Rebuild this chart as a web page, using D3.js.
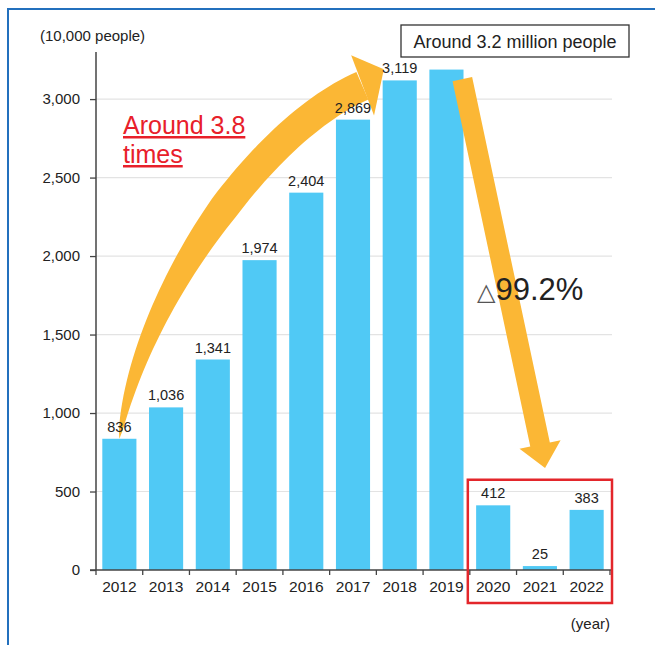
<!DOCTYPE html>
<html>
<head>
<meta charset="utf-8">
<script src="https://cdn.jsdelivr.net/npm/d3@7"></script>
<style>
  body { margin: 0; background: #fff; }
  svg { display: block; font-family: "Liberation Sans", Arial, Helvetica, sans-serif; }
</style>
</head>
<body>
<svg id="chart" width="655" height="645"></svg>
<script>
// data (unit: 10,000 people)
var years = ['2012', '2013', '2014', '2015', '2016', '2017', '2018', '2019', '2020', '2021', '2022'];
var visitors = [836, 1036, 1341, 1974, 2404, 2869, 3119, 3188, 412, 25, 383];
var valueLabels = ['836', '1,036', '1,341', '1,974', '2,404', '2,869', '3,119', '', '412', '25', '383'];
var yTicks = [0, 500, 1000, 1500, 2000, 2500, 3000];
var yTickLabels = ['0', '500', '1,000', '1,500', '2,000', '2,500', '3,000'];

var svg = d3.select('#chart');

var x = d3.scaleBand().domain(years).range([96, 610]).paddingInner(0.27).paddingOuter(0.135);
var y = d3.scaleLinear().domain([0, 3300]).range([570, 52]);

// fractional category index + value -> pixel (for the annotation arrows)
function at(i, v) {
  return [x.range()[0] + x.step() * (i + 0.5), y(v)];
}

// outer frame (blue rule top and left)
svg.append('line').attr('x1', 7).attr('x2', 655).attr('y1', 9).attr('y2', 9)
  .attr('stroke', '#2370bd').attr('stroke-width', 2);
svg.append('line').attr('x1', 8).attr('x2', 8).attr('y1', 9).attr('y2', 645)
  .attr('stroke', '#2370bd').attr('stroke-width', 2);

// gridlines
svg.append('g').selectAll('line')
  .data(yTicks.slice(1))
  .enter().append('line')
  .attr('x1', 96).attr('x2', 612)
  .attr('y1', function(d) { return y(d); })
  .attr('y2', function(d) { return y(d); })
  .attr('stroke', '#e3e3e3').attr('stroke-width', 1.2);

// bars
svg.append('g').selectAll('rect')
  .data(visitors)
  .enter().append('rect')
  .attr('x', function(d, i) { return x(years[i]); })
  .attr('y', function(d) { return y(d); })
  .attr('width', x.bandwidth())
  .attr('height', function(d) { return y(0) - y(d); })
  .attr('fill', '#50c9f5');

// y axis
var yAxis = d3.axisLeft(y).tickValues(yTicks).tickSize(6).tickPadding(10)
  .tickFormat(function(d, i) { return yTickLabels[i]; });
var yg = svg.append('g').attr('transform', 'translate(96,0)').call(yAxis);
yg.select('.domain').attr('stroke', '#444').attr('stroke-width', 1.5).attr('d', 'M0,52V570');
yg.selectAll('.tick line').attr('stroke', '#444').attr('stroke-width', 1.3);
yg.selectAll('.tick text').attr('font-size', 15).attr('fill', '#222')
  .attr('font-family', '"Liberation Sans", Arial, sans-serif');

// x axis: labels centred, ticks on band boundaries
var xAxis = d3.axisBottom(x).tickSize(0).tickPadding(11);
var xg = svg.append('g').attr('transform', 'translate(0,570)').call(xAxis);
xg.select('.domain').attr('stroke', '#444').attr('stroke-width', 1.5).attr('d', 'M90,0H612');
xg.selectAll('.tick text').attr('font-size', 15.5).attr('fill', '#222')
  .attr('font-family', '"Liberation Sans", Arial, sans-serif');
xg.append('g').selectAll('line')
  .data(d3.range(years.length + 1))
  .enter().append('line')
  .attr('x1', function(k) { return x.range()[0] + k * x.step(); })
  .attr('x2', function(k) { return x.range()[0] + k * x.step(); })
  .attr('y1', 0).attr('y2', 5)
  .attr('stroke', '#444').attr('stroke-width', 1.3);

// unit labels
svg.append('text').attr('x', 40).attr('y', 41).attr('font-size', 15).attr('fill', '#222')
  .text('(10,000 people)');
svg.append('text').attr('x', 610).attr('y', 629).attr('text-anchor', 'end')
  .attr('font-size', 15).attr('fill', '#222').text('(year)');

// ---- annotation arrows ----
var orange = '#fbb735';

// curved arrow 2012 -> 2018
var c0 = at(0, 836), c1 = at(0.44, 1720), c2 = at(3.0, 2800), c3 = at(5.2, 3085);
function bez(t, k) {
  var u = 1 - t;
  return u*u*u*c0[k] + 3*u*u*t*c1[k] + 3*u*t*t*c2[k] + t*t*t*c3[k];
}
function bezD(t, k) {
  var u = 1 - t;
  return 3*u*u*(c1[k]-c0[k]) + 6*u*t*(c2[k]-c1[k]) + 3*t*t*(c3[k]-c2[k]);
}
var sideA = [], sideB = [];
d3.range(0, 1.0001, 1/60).forEach(function(t) {
  var px = bez(t, 0), py = bez(t, 1);
  var dx = bezD(t, 0), dy = bezD(t, 1);
  var len = Math.sqrt(dx*dx + dy*dy);
  var nx = -dy/len, ny = dx/len;
  var h = 15 * Math.pow(Math.min(1, t / 0.55), 0.65);
  sideA.push([px + nx*h, py + ny*h]);
  sideB.push([px - nx*h, py - ny*h]);
});
var curvePoly = sideA.concat(sideB.reverse());
svg.append('path')
  .attr('d', d3.line()(curvePoly) + 'Z')
  .attr('fill', orange);
svg.append('path')
  .attr('d', d3.line()([at(4.96, 3280), at(5.66, 3190), at(5.45, 2895)]) + 'Z')
  .attr('fill', orange);

// straight arrow 2019 -> 2020..2022
var s0 = at(7.34, 3127), s1 = at(9.11, 650);
var ddx = s1[0] - s0[0], ddy = s1[1] - s0[1];
var dl = Math.sqrt(ddx*ddx + ddy*ddy);
var ux = ddx/dl, uy = ddy/dl, vx = -uy, vy = ux;
var headLen = 24, headW = 21, shaftW = 10;
var hb = [s1[0] - ux*headLen, s1[1] - uy*headLen];
var downPoly = [
  [s0[0] + vx*shaftW, s0[1] + vy*shaftW],
  [hb[0] + vx*shaftW, hb[1] + vy*shaftW],
  [hb[0] + vx*headW, hb[1] + vy*headW],
  s1,
  [hb[0] - vx*headW, hb[1] - vy*headW],
  [hb[0] - vx*shaftW, hb[1] - vy*shaftW],
  [s0[0] - vx*shaftW, s0[1] - vy*shaftW]
];
svg.append('path').attr('d', d3.line()(downPoly) + 'Z').attr('fill', orange);

// value labels
svg.append('g').selectAll('text')
  .data(visitors)
  .enter().append('text')
  .attr('x', function(d, i) { return x(years[i]) + x.bandwidth()/2; })
  .attr('y', function(d) { return y(d) - 7; })
  .attr('text-anchor', 'middle')
  .attr('font-size', 14.5).attr('fill', '#222')
  .text(function(d, i) { return valueLabels[i]; });

// red box around 2020-2022
var boxL = x.range()[0] + 8 * x.step() - 2;
svg.append('rect')
  .attr('x', boxL).attr('y', y(575))
  .attr('width', 612 - boxL).attr('height', y(0) + 33 - y(575))
  .attr('fill', 'none').attr('stroke', '#e3262b').attr('stroke-width', 2.5);

// callout box
svg.append('rect').attr('x', 401).attr('y', 25).attr('width', 228).attr('height', 32)
  .attr('fill', '#fff').attr('stroke', '#333').attr('stroke-width', 1.3);
svg.append('text').attr('x', 515).attr('y', 48).attr('text-anchor', 'middle')
  .attr('font-size', 18).attr('fill', '#222').text('Around 3.2 million people');

// red growth note
var note = svg.append('text').attr('font-size', 25).attr('fill', '#e8202a')
  .attr('text-decoration', 'underline');
note.append('tspan').attr('x', 123).attr('y', 134).text('Around 3.8');
note.append('tspan').attr('x', 123).attr('y', 163).text('times');

// decline note
var dec = svg.append('text').attr('x', 477).attr('y', 300).attr('fill', '#222');
dec.append('tspan').attr('font-size', 24).attr('fill', '#555')
  .attr('font-family', '"DejaVu Sans", sans-serif').text('△');
dec.append('tspan').attr('font-size', 31).text('99.2%');
</script>
</body>
</html>
